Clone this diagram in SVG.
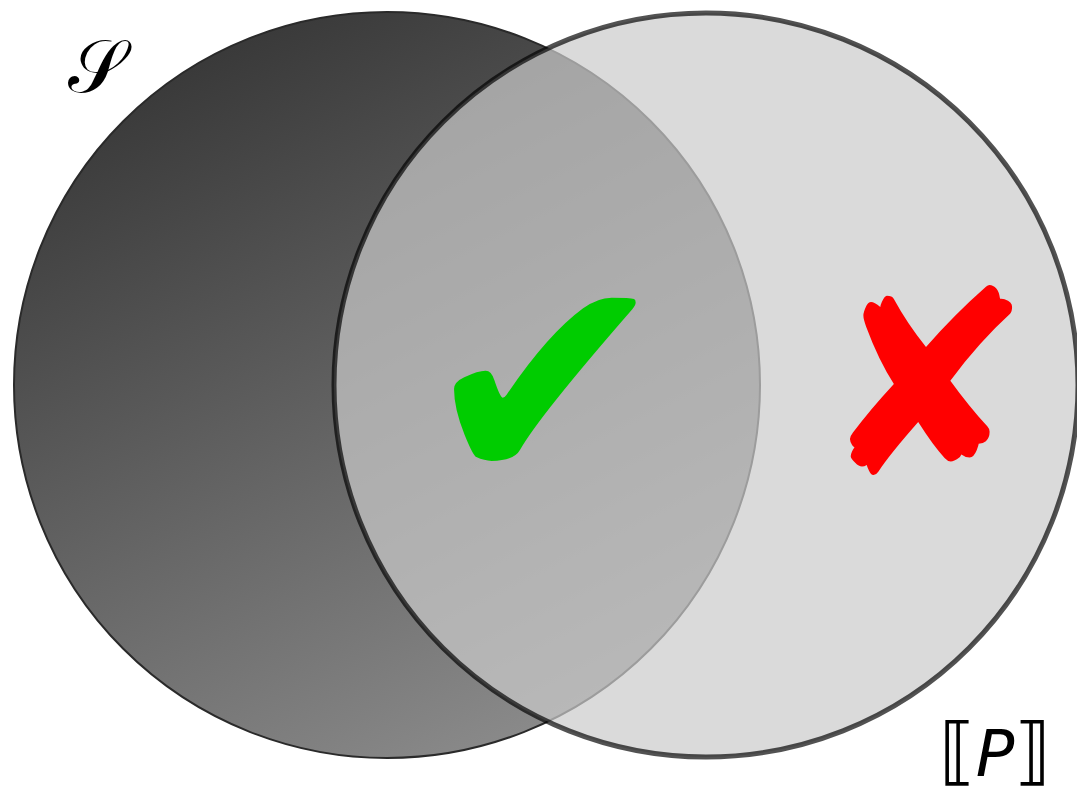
<svg xmlns="http://www.w3.org/2000/svg" width="1077" height="798" viewBox="0 0 1077 798">
<defs>
<linearGradient id="gS" x1="0.25" y1="0" x2="0.75" y2="1">
<stop offset="0" stop-color="#353535"/>
<stop offset="1" stop-color="#8e8e8e"/>
</linearGradient>
<style>
.lbl{font-family:"DejaVu Serif","Liberation Serif",serif;fill:#000}
.sym{font-family:"DejaVu Sans",sans-serif}
</style>
</defs>
<rect width="1077" height="798" fill="#ffffff"/>
<g id="setS">
<circle cx="387" cy="385" r="373" fill="url(#gS)" stroke="#2a2a2a" stroke-width="2"/>
</g>
<g id="setP">
<circle cx="706" cy="385" r="372" fill="#cbcbcb" fill-opacity="0.71" stroke="#000" stroke-opacity="0.68" stroke-width="5"/>
</g>
<g id="check">
<text class="sym" x="545" y="487" font-size="300" fill="#00cc00" text-anchor="middle">✔</text>
</g>
<g id="cross">
<text class="sym" x="926" y="475" font-size="257" fill="#ff0000" text-anchor="middle">✘</text>
</g>
<g id="labelS">
<text class="lbl" x="96" y="92" font-size="74" text-anchor="middle">𝒮</text>
</g>
<g id="labelP">
<text x="995" y="776" font-family="DejaVu Sans, sans-serif" font-size="64" text-anchor="middle"><tspan font-size="74">⟦</tspan><tspan font-style="italic">P</tspan><tspan font-size="74">⟧</tspan></text>
</g>
</svg>
